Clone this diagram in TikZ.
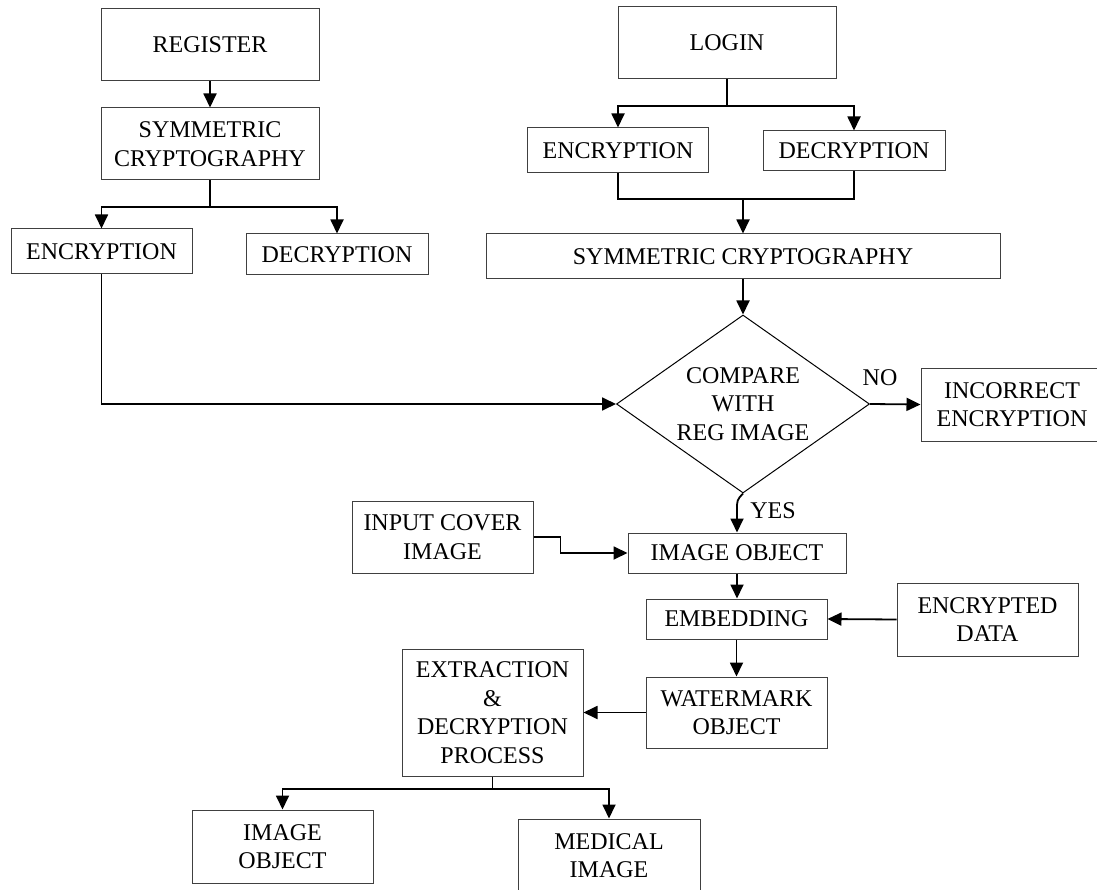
\documentclass[tikz,border=0pt]{standalone}
\usepackage{fontspec}
\setmainfont{Liberation Serif}
\usetikzlibrary{shapes.geometric,arrows.meta,calc}
\begin{document}
\begin{tikzpicture}[x=1pt,y=-1pt,
  box/.style={draw=black!75, line width=1pt, rectangle, inner sep=0pt, align=center,
              font=\fontsize{24}{28.5}\selectfont},
  lbl/.style={inner sep=0pt, font=\fontsize{24}{28.5}\selectfont},
  conn/.style={line width=1.8pt, draw=black},
  arr/.style={conn, -{Triangle[length=14pt,width=13pt]}}]
\useasboundingbox (0,0) rectangle (1097,890);
\clip (0,0) rectangle (1097,890);
% left column
\node[box, minimum width=218pt, minimum height=72pt] (reg) at (210,45) {REGISTER};
\node[box, minimum width=218pt, minimum height=72pt] (symL) at (210,144) {SYMMETRIC\\CRYPTOGRAPHY};
\node[box, minimum width=181pt, minimum height=45pt] (encL) at (101.5,251.5) {ENCRYPTION};
\node[box, minimum width=182pt, minimum height=41pt] (decL) at (337,254.5) {DECRYPTION};
% right column
\node[box, minimum width=218pt, minimum height=72pt] (login) at (727,43) {LOGIN};
\node[box, minimum width=181pt, minimum height=45pt] (encR) at (618,150.5) {ENCRYPTION};
\node[box, minimum width=182pt, minimum height=40pt] (decR) at (854,151) {DECRYPTION};
\node[box, minimum width=514pt, minimum height=45pt] (symR) at (743,256.5) {SYMMETRIC CRYPTOGRAPHY};
% decision
\node[draw=black, line width=1pt, diamond, minimum width=253pt, minimum height=178pt, inner sep=0pt] (cmp) at (743,404) {};
\node[lbl, align=center] (cmptext) at (cmp.center) {COMPARE\\WITH\\REG IMAGE};
\node[box, minimum width=182pt, minimum height=73pt] (inc) at (1012,404.5) {INCORRECT\\ENCRYPTION};
\node[lbl] (no) at (880,378) {NO};
\node[lbl] (yes) at (773,511) {YES};
% lower part
\node[box, minimum width=181pt, minimum height=72pt] (inp) at (442.5,537) {INPUT COVER\\IMAGE};
\node[box, minimum width=218pt, minimum height=40pt] (imgobj) at (737,553) {IMAGE OBJECT};
\node[box, minimum width=181pt, minimum height=40pt] (emb) at (736.5,619) {EMBEDDING};
\node[box, minimum width=181pt, minimum height=73pt] (encdata) at (987.5,619.5) {ENCRYPTED\\DATA};
\node[box, minimum width=181pt, minimum height=71pt] (water) at (736.5,712.5) {WATERMARK\\OBJECT};
\node[box, minimum width=181pt, minimum height=127pt] (extr) at (492.5,712.5) {EXTRACTION\\\&\\DECRYPTION\\PROCESS};
\node[box, minimum width=181pt, minimum height=73pt] (imgobj2) at (282.5,846.5) {IMAGE\\OBJECT};
\node[box, minimum width=182pt, minimum height=73pt] (med) at (609,855.5) {MEDICAL\\IMAGE};
% helper coordinates
\coordinate (sl) at (210,207);
\coordinate (lj) at (727,106);
\coordinate (rj) at (743,199);
\coordinate (ej) at (492.5,789);
% connectors
\draw[arr] (reg.south) -- (symL.north);
\draw[conn] (symL.south) -- (sl);
\draw[arr] (sl) -| (encL.north);
\draw[arr] (sl) -| (decL.north);
\draw[arr] (encL.south) |- (cmp.west);
\draw[conn] (login.south) -- (lj);
\draw[arr] (lj) -| (encR.north);
\draw[arr] (lj) -| (decR.north);
\draw[conn] (encR.south) |- (rj);
\draw[conn] (decR.south) |- (rj);
\draw[arr] (rj) -- (symR.north);
\draw[arr] (symR.south) -- (cmp.north);
\draw[arr] (cmp.east) -- (inc.west);
\draw[arr] (cmp.south) .. controls (737,500) .. (737,510) -- (imgobj.north);
\draw[arr] (inp.east) -- ++(27,0) |- (imgobj.west);
\draw[arr] (imgobj.south) -- (imgobj.south |- emb.north);
\draw[arr] (encdata.west) -- (emb.east);
\draw[arr] (emb.south) -- (water.north);
\draw[arr] (water.west) -- (extr.east);
\draw[conn] (extr.south) -- (ej);
\draw[arr] (ej) -| (imgobj2.north);
\draw[arr] (ej) -| (med.north);
\end{tikzpicture}
\end{document}
